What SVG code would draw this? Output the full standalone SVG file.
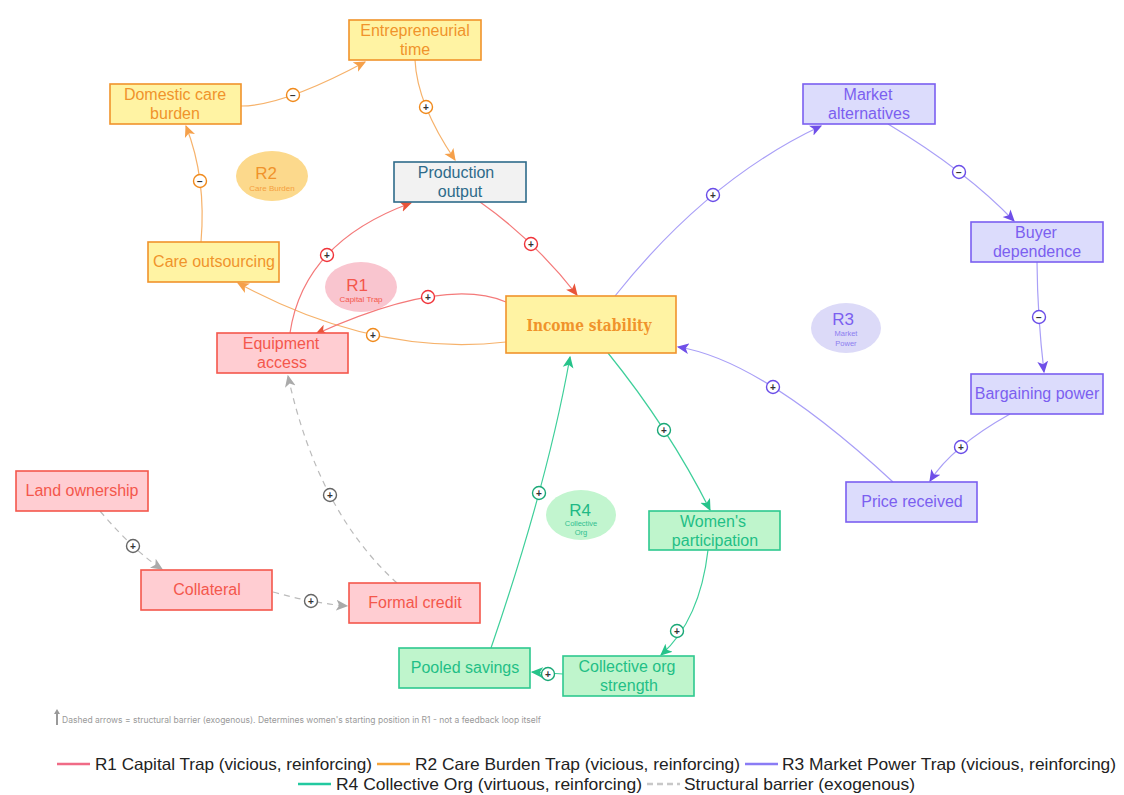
<svg xmlns="http://www.w3.org/2000/svg" width="1124" height="795" viewBox="0 0 1124 795">
<style>
.n rect{stroke-width:1.6}
.n text{font-family:"Liberation Sans",Arial,sans-serif;font-size:16px;text-anchor:middle}
.or rect{fill:#fff3a3;stroke:#f0932b}.or text{fill:#f0932b}
.rd rect{fill:#ffcdd2;stroke:#f4574c}.rd text{fill:#f4574c}
.pu rect{fill:#dcdcfc;stroke:#7b5ff0}.pu text{fill:#7b5ff0}
.gr rect{fill:#bff5cc;stroke:#2ec98f}.gr text{fill:#1fbf86}
.bl rect{fill:#f2f2f2;stroke:#2e6b8a}.bl text{fill:#2e6b8a}
.e{fill:none;stroke-width:1.2}
.eo{stroke:#f6b26b}.er{stroke:#f47a7a}.ep{stroke:#a99ff7}.eg{stroke:#3ecf9a}.ex{stroke:#bbbbbb;stroke-dasharray:6 5}
.lb circle{fill:#fff;stroke-width:1.4}
.lb text{font-family:"Liberation Sans",Arial,sans-serif;font-size:10px;font-weight:bold;text-anchor:middle;fill:#333}
.lo circle{stroke:#f08a1c}.lr circle{stroke:#f0343a}.lp circle{stroke:#6a4de8}.lg circle{stroke:#1aa877}.lx circle{stroke:#666}
.loop text{font-family:"Liberation Sans",Arial,sans-serif;text-anchor:middle}
.lg1{font-family:"Liberation Sans",Arial,sans-serif;font-size:16.5px;fill:#222}
</style>
<defs>
<marker id="ao" viewBox="0 0 10 10" refX="9" refY="5" markerWidth="12" markerHeight="12" markerUnits="userSpaceOnUse" orient="auto"><path d="M0,0.5 L10,5 L0,9.5 L2.5,5 z" fill="#f5a04a"/></marker>
<marker id="ar" viewBox="0 0 10 10" refX="9" refY="5" markerWidth="12" markerHeight="12" markerUnits="userSpaceOnUse" orient="auto"><path d="M0,0.5 L10,5 L0,9.5 L2.5,5 z" fill="#e8553a"/></marker>
<marker id="ap" viewBox="0 0 10 10" refX="9" refY="5" markerWidth="12" markerHeight="12" markerUnits="userSpaceOnUse" orient="auto"><path d="M0,0.5 L10,5 L0,9.5 L2.5,5 z" fill="#6f4fe8"/></marker>
<marker id="ag" viewBox="0 0 10 10" refX="9" refY="5" markerWidth="12" markerHeight="12" markerUnits="userSpaceOnUse" orient="auto"><path d="M0,0.5 L10,5 L0,9.5 L2.5,5 z" fill="#26c38a"/></marker>
<marker id="ax" viewBox="0 0 10 10" refX="9" refY="5" markerWidth="12" markerHeight="12" markerUnits="userSpaceOnUse" orient="auto"><path d="M0,0.5 L10,5 L0,9.5 L2.5,5 z" fill="#aaaaaa"/></marker>
</defs>
<rect width="1124" height="795" fill="#ffffff"/>

<g id="loops" class="loop">
<g id="loop-R2"><ellipse cx="272" cy="176" rx="36" ry="25" fill="#fcd98c"/><text x="266" y="179" font-size="17" fill="#f0932b">R2</text><text x="272" y="191" font-size="8" fill="#f5a040">Care Burden</text></g>
<g id="loop-R1"><ellipse cx="361" cy="287" rx="36" ry="25" fill="#f9c5cf"/><text x="357" y="291" font-size="17" fill="#f4574c">R1</text><text x="361" y="302" font-size="8" fill="#f4574c">Capital Trap</text></g>
<g id="loop-R3"><ellipse cx="846" cy="328" rx="35" ry="25" fill="#dcdaf8"/><text x="843" y="325" font-size="17" fill="#7b5ff0">R3</text><text x="846" y="336" font-size="7.5" fill="#8c7ef0">Market</text><text x="846" y="346" font-size="7.5" fill="#8c7ef0">Power</text></g>
<g id="loop-R4"><ellipse cx="581" cy="515" rx="35" ry="25" fill="#c2f5cf"/><text x="580" y="516" font-size="17" fill="#20b985">R4</text><text x="581" y="526" font-size="7.5" fill="#30c090">Collective</text><text x="581" y="535" font-size="7.5" fill="#30c090">Org</text></g>
</g>

<g id="connectors">
<path class="e eo" d="M241,106 Q283,106 365,62" marker-end="url(#ao)"/>
<path class="e eo" d="M415,60 Q417,104 455,160" marker-end="url(#ao)"/>
<path class="e eo" d="M201,242 Q206.5,178 186,126" marker-end="url(#ao)"/>
<path class="e eo" d="M506,342 Q374,357 238,283" marker-end="url(#ao)"/>
<path class="e er" d="M290,333 Q303.5,242 411,203" marker-end="url(#ar)"/>
<path class="e er" d="M506,302 Q445,276 316,334" marker-end="url(#ar)"/>
<path class="e er" d="M480,202 Q533.5,239.5 577,295" marker-end="url(#ar)"/>
<path class="e ep" d="M615,296 Q708,179 821,126" marker-end="url(#ap)"/>
<path class="e ep" d="M888,124 Q967,171.5 1014,221" marker-end="url(#ap)"/>
<path class="e ep" d="M1037,262 Q1037.5,317 1044,372" marker-end="url(#ap)"/>
<path class="e ep" d="M1010,414 Q952,446.5 930,481" marker-end="url(#ap)"/>
<path class="e ep" d="M893,482 Q760.5,359.5 678,347" marker-end="url(#ap)"/>
<path class="e eg" d="M608,353 Q669,428.5 710,510" marker-end="url(#ag)"/>
<path class="e eg" d="M708,550 Q700,620 661,655" marker-end="url(#ag)"/>
<path class="e eg" d="M563,674 L532,672" marker-end="url(#ag)"/>
<path class="e eg" d="M491,648 Q547.5,483.5 570,357" marker-end="url(#ag)"/>
<path class="e ex" d="M100,511 Q135,552 162,569" marker-end="url(#ax)"/>
<path class="e ex" d="M273,592 Q312,603 347,606" marker-end="url(#ax)"/>
<path class="e ex" d="M397,583 Q317.5,511 288,376" marker-end="url(#ax)"/>
</g>

<g id="edge-labels">
<g class="lb lo"><circle cx="293" cy="95" r="6.5"/><text x="293" y="98.5">−</text></g>
<g class="lb lo"><circle cx="426" cy="107" r="6.5"/><text x="426" y="110.5">+</text></g>
<g class="lb lo"><circle cx="200" cy="181" r="6.5"/><text x="200" y="184.5">−</text></g>
<g class="lb lo"><circle cx="373" cy="335" r="6.5"/><text x="373" y="338.5">+</text></g>
<g class="lb lr"><circle cx="327" cy="255" r="6.5"/><text x="327" y="258.5">+</text></g>
<g class="lb lr"><circle cx="428" cy="297" r="6.5"/><text x="428" y="300.5">+</text></g>
<g class="lb lr"><circle cx="531" cy="244" r="6.5"/><text x="531" y="247.5">+</text></g>
<g class="lb lp"><circle cx="713" cy="195" r="6.5"/><text x="713" y="198.5">+</text></g>
<g class="lb lp"><circle cx="959" cy="172" r="6.5"/><text x="959" y="175.5">−</text></g>
<g class="lb lp"><circle cx="1039" cy="317" r="6.5"/><text x="1039" y="320.5">−</text></g>
<g class="lb lp"><circle cx="961" cy="447" r="6.5"/><text x="961" y="450.5">+</text></g>
<g class="lb lp"><circle cx="773" cy="387" r="6.5"/><text x="773" y="390.5">+</text></g>
<g class="lb lg"><circle cx="664" cy="430" r="6.5"/><text x="664" y="433.5">+</text></g>
<g class="lb lg"><circle cx="677" cy="631" r="6.5"/><text x="677" y="634.5">+</text></g>
<g class="lb lg"><circle cx="548" cy="674" r="6.5"/><text x="548" y="677.5">+</text></g>
<g class="lb lg"><circle cx="539" cy="493" r="6.5"/><text x="539" y="496.5">+</text></g>
<g class="lb lx"><circle cx="133" cy="546" r="6.5"/><text x="133" y="549.5">+</text></g>
<g class="lb lx"><circle cx="311" cy="601" r="6.5"/><text x="311" y="604.5">+</text></g>
<g class="lb lx"><circle cx="330" cy="495" r="6.5"/><text x="330" y="498.5">+</text></g>
</g>

<g id="n-entrepreneurial" class="n or"><rect x="349" y="20" width="132" height="40"/><text x="415" y="36">Entrepreneurial</text><text x="415" y="55">time</text></g>
<g id="n-domestic" class="n or"><rect x="110" y="84" width="131" height="40"/><text x="175" y="100">Domestic care</text><text x="175" y="119">burden</text></g>
<g id="n-production" class="n bl"><rect x="394" y="162" width="132" height="40"/><text x="456" y="178">Production</text><text x="460" y="197">output</text></g>
<g id="n-careout" class="n or"><rect x="148" y="242" width="131" height="40"/><text x="214" y="267">Care outsourcing</text></g>
<g id="n-equipment" class="n rd"><rect x="217" y="333" width="131" height="40"/><text x="281" y="349">Equipment</text><text x="282" y="368">access</text></g>
<g id="n-income" class="n or"><rect x="506" y="296" width="170" height="57"/><text x="589" y="331" style="font-family:'DejaVu Serif','Liberation Serif',serif;font-weight:bold;font-size:17px" textLength="125" lengthAdjust="spacingAndGlyphs">Income stability</text></g>
<g id="n-market" class="n pu"><rect x="803" y="84" width="132" height="40"/><text x="868" y="100">Market</text><text x="869" y="119">alternatives</text></g>
<g id="n-buyer" class="n pu"><rect x="971" y="222" width="132" height="40"/><text x="1036" y="238">Buyer</text><text x="1037" y="257">dependence</text></g>
<g id="n-bargaining" class="n pu"><rect x="971" y="374" width="132" height="40"/><text x="1037" y="399">Bargaining power</text></g>
<g id="n-price" class="n pu"><rect x="846" y="482" width="131" height="40"/><text x="912" y="507">Price received</text></g>
<g id="n-women" class="n gr"><rect x="649" y="511" width="131" height="39"/><text x="713" y="527">Women's</text><text x="715" y="546">participation</text></g>
<g id="n-collective" class="n gr"><rect x="563" y="656" width="131" height="40"/><text x="627" y="672">Collective org</text><text x="629" y="691">strength</text></g>
<g id="n-pooled" class="n gr"><rect x="399" y="648" width="131" height="40"/><text x="465" y="673">Pooled savings</text></g>
<g id="n-land" class="n rd"><rect x="16" y="471" width="132" height="40"/><text x="82" y="496">Land ownership</text></g>
<g id="n-collateral" class="n rd"><rect x="141" y="570" width="131" height="40"/><text x="207" y="595">Collateral</text></g>
<g id="n-formal" class="n rd"><rect x="349" y="583" width="131" height="40"/><text x="415" y="608">Formal credit</text></g>

<g id="footnote">
<path d="M57,725 L57,713" stroke="#999" stroke-width="2"/><path d="M54,714 L57,709 L60,714 z" fill="#999"/>
<text x="62" y="723" font-family="Inter,'Liberation Sans',sans-serif" font-size="8.5" fill="#9a9a9a">Dashed arrows = structural barrier (exogenous). Determines women's starting position in R1 - not a feedback loop itself</text>
</g>

<g id="legend">
<line x1="57" y1="764" x2="90" y2="764" stroke="#f06b86" stroke-width="2.5"/>
<text class="lg1" x="95" y="770" textLength="277" lengthAdjust="spacingAndGlyphs">R1 Capital Trap (vicious, reinforcing)</text>
<line x1="377" y1="764" x2="410" y2="764" stroke="#f5a53a" stroke-width="2.5"/>
<text class="lg1" x="415" y="770" textLength="325" lengthAdjust="spacingAndGlyphs">R2 Care Burden Trap (vicious, reinforcing)</text>
<line x1="745" y1="764" x2="778" y2="764" stroke="#8a7cf5" stroke-width="2.5"/>
<text class="lg1" x="782" y="770" textLength="334" lengthAdjust="spacingAndGlyphs">R3 Market Power Trap (vicious, reinforcing)</text>
<line x1="298" y1="784" x2="331" y2="784" stroke="#22c9a0" stroke-width="2.5"/>
<text class="lg1" x="336" y="790" textLength="306" lengthAdjust="spacingAndGlyphs">R4 Collective Org (virtuous, reinforcing)</text>
<line x1="647" y1="784" x2="680" y2="784" stroke="#c8c8c8" stroke-width="2.5" stroke-dasharray="6 4"/>
<text class="lg1" x="684" y="790" textLength="231" lengthAdjust="spacingAndGlyphs">Structural barrier (exogenous)</text>
</g>
</svg>
